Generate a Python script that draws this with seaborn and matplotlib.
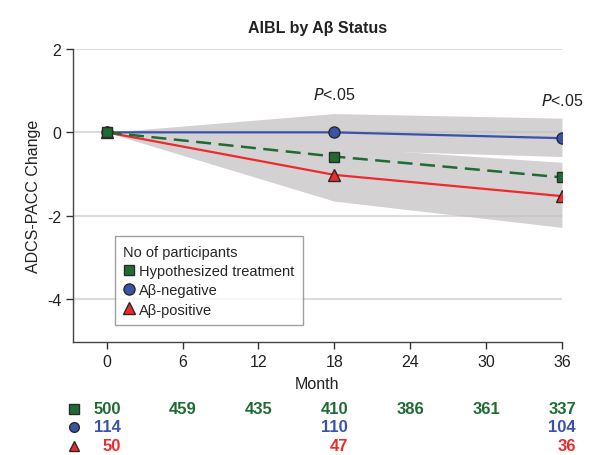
import matplotlib
matplotlib.use("Agg")
import matplotlib.pyplot as plt
import matplotlib.transforms as mtransforms
from matplotlib.lines import Line2D
import seaborn as sns
import pandas as pd

# data
months = [0, 18, 36]
treat = [0.0, -0.58, -1.08]
neg = [0.0, 0.0, -0.14]
pos = [0.0, -1.02, -1.53]
neg_lo = [0.0, -0.42, -0.58]
neg_hi = [0.0, 0.45, 0.34]
pos_lo = [0.0, -1.65, -2.28]
pos_hi = [0.0, -0.35, -0.72]

count_months = [0, 6, 12, 18, 24, 30, 36]
n_treat = [500, 459, 435, 410, 386, 361, 337]
n_neg_months = [0, 18, 36]
n_neg = [114, 110, 104]
n_pos_months = [0, 18, 36]
n_pos = [50, 47, 36]

green = "#1f6b32"
blue = "#3a52a8"
red = "#ee2a2a"
band = "#d3d1d2"

sns.set_style("white")
plt.rcParams["font.family"] = ["Liberation Sans", "DejaVu Sans"]

fig = plt.figure(figsize=(5.95, 4.56), dpi=100)
ax = fig.add_axes([0.1227, 0.2478, 0.8218, 0.6426])

ax.fill_between(months, neg_lo, neg_hi, color=band, lw=0, zorder=1)
ax.fill_between(months, pos_lo, pos_hi, color=band, lw=0, zorder=1)
for yv in [2, 0, -2, -4]:
    ax.axhline(yv, color="#c0c0c0", lw=1.5, alpha=0.55, zorder=1.5)

df_neg = pd.DataFrame({"Month": months, "v": neg})
df_pos = pd.DataFrame({"Month": months, "v": pos})
df_tr = pd.DataFrame({"Month": months, "v": treat})

sns.lineplot(data=df_neg, x="Month", y="v", color=blue, lw=1.6, ax=ax,
             marker="o", markersize=8, markerfacecolor=blue,
             markeredgecolor="#2a2a2a", markeredgewidth=1, zorder=3)
sns.lineplot(data=df_pos, x="Month", y="v", color=red, lw=1.6, ax=ax,
             marker="^", markersize=8, markerfacecolor=red,
             markeredgecolor="#2a2a2a", markeredgewidth=1, zorder=3)
sns.lineplot(data=df_tr, x="Month", y="v", color=green, lw=1.8, ax=ax,
             marker="s", markersize=7, markerfacecolor=green,
             markeredgecolor="#2a2a2a", markeredgewidth=1, zorder=4)
ax.lines[-1].set_dashes([6, 3])

ax.set_xlim(-2.66, 36)
ax.set_ylim(-5.03, 2)
ax.set_xticks(count_months)
ax.set_yticks([2, 0, -2, -4])
ax.set_yticklabels(["2", "0", "-2", "-4"])
ax.tick_params(axis="both", direction="out", length=5, width=1, color="#333333",
               labelsize=11.5, labelcolor="#222222", bottom=True, left=True)
for s in ["top", "right"]:
    ax.spines[s].set_visible(False)
for s in ["left", "bottom"]:
    ax.spines[s].set_color("#444444")
    ax.spines[s].set_linewidth(1)

ax.set_xlabel("Month", fontsize=11.5, color="#222222", labelpad=5)
ax.set_ylabel("ADCS-PACC Change", fontsize=11.5, color="#222222", labelpad=4)
ax.set_title("AIBL by A\u03b2 Status", fontsize=11.5, fontweight="bold",
             color="#222222", pad=12)

ax.text(18, 0.72, "$P$<.05", ha="center", va="bottom", fontsize=11.5, color="#222222")
ax.text(36, 0.58, "$P$<.05", ha="center", va="bottom", fontsize=11.5, color="#222222")

handles = [
    Line2D([], [], ls="none", marker="s", ms=7, mfc=green, mec="#2a2a2a"),
    Line2D([], [], ls="none", marker="o", ms=8, mfc=blue, mec="#2a2a2a"),
    Line2D([], [], ls="none", marker="^", ms=8, mfc=red, mec="#2a2a2a"),
]
leg = ax.legend(handles, ["Hypothesized treatment", "A\u03b2-negative", "A\u03b2-positive"],
                title="No of participants", loc="upper left",
                bbox_to_anchor=(0.07, 0.385), fontsize=10.5, title_fontsize=10.5,
                frameon=True, fancybox=False, handletextpad=0.3, handlelength=0.8,
                labelspacing=0.35, borderpad=0.6, alignment="left")
leg.get_frame().set_edgecolor("#888888")
leg.get_frame().set_linewidth(1)
leg.set_zorder(5)

# numbers at risk table
trans = mtransforms.blended_transform_factory(ax.transData, fig.transFigure)
rows = [(count_months, n_treat, green, "s", 1 - 410 / 456),
        (n_neg_months, n_neg, blue, "o", 1 - 428 / 456),
        (n_pos_months, n_pos, red, "^", 1 - 447 / 456)]
for xs, ns, col, mk, yy in rows:
    ax.plot([-2.55], [yy], transform=trans, marker=mk, ms=7, mfc=col,
            mec="#2a2a2a", ls="none", clip_on=False)
    for m, n in zip(xs, ns):
        ax.text(m + 1.1, yy, str(n), transform=trans, ha="right", va="center",
                fontsize=12, fontweight="bold", color=col)

fig.savefig("out.png", dpi=100)
plt.close(fig)
